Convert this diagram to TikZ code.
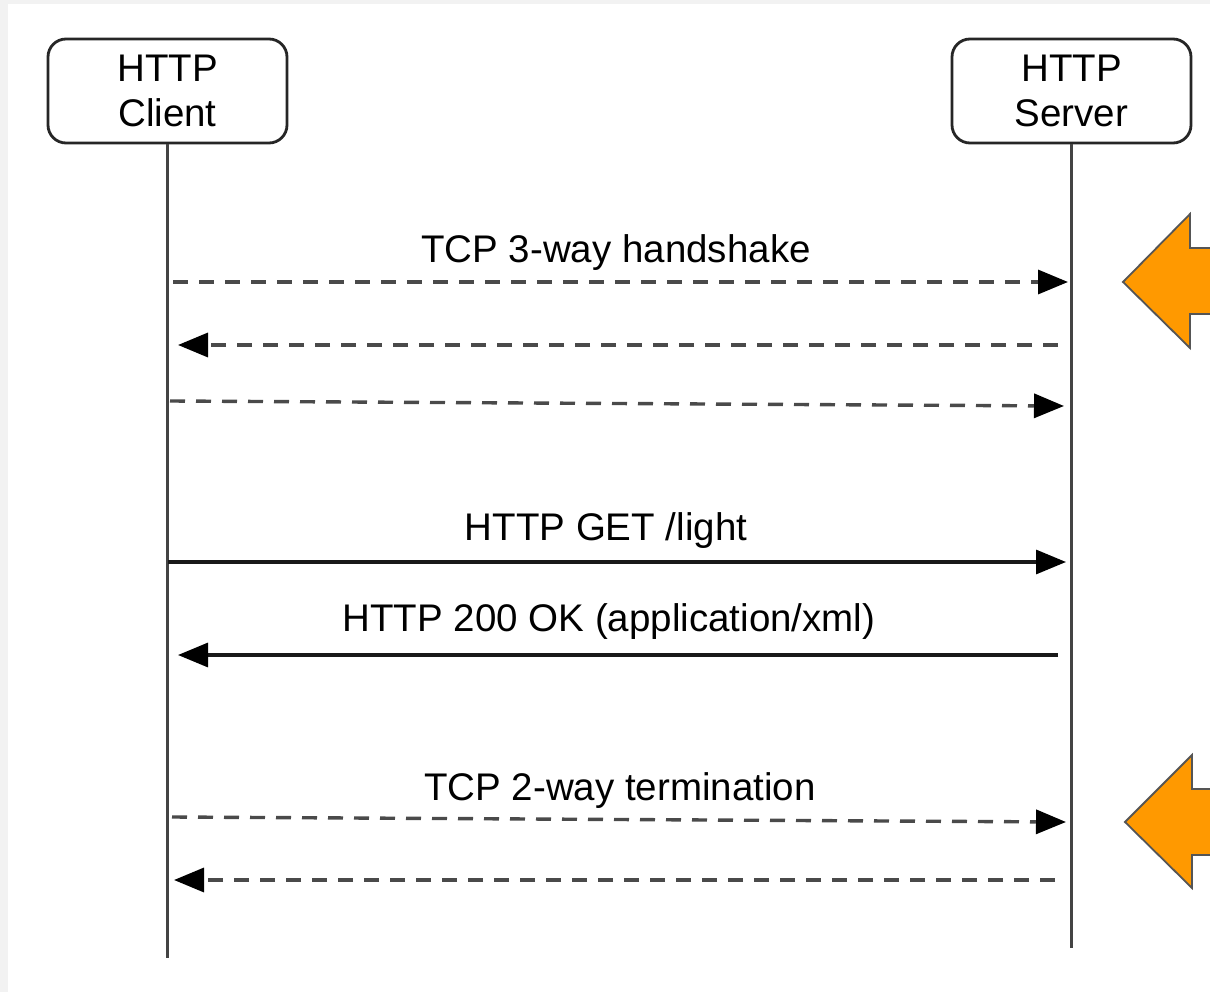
\documentclass[tikz,border=0pt]{standalone}
\usepackage{fontspec}
\setmainfont{Liberation Sans}
\usetikzlibrary{arrows.meta}

\definecolor{pagegray}{HTML}{F2F2F2}
\definecolor{lifegray}{HTML}{444444}
\definecolor{dashgray}{HTML}{4A4A4A}
\definecolor{hintorange}{HTML}{FF9900}
\definecolor{hintedge}{HTML}{555555}

\tikzset{
  actor/.style={draw=black!85, line width=2.8pt, rounded corners=18pt,
    minimum width=239pt, minimum height=104pt, inner sep=0pt,
    align=center, font=\fontsize{38.5}{45}\selectfont, text=black},
  lifeline/.style={draw=lifegray, line width=3.4pt},
  msgtip/.style={-{Triangle[length=30pt,width=24pt,color=black]}},
  syncmsg/.style={msgtip, draw=black!90, line width=3.2pt},
  tcpmsg/.style={msgtip, draw=dashgray, line width=3.4pt,
    dash pattern=on 15pt off 11pt},
  msglabel/.style={anchor=base, inner sep=0pt,
    font=\fontsize{38.5}{45}\selectfont, text=black},
  hint/.style={fill=hintorange, draw=hintedge, line width=1.8pt, line join=miter}
}

\begin{document}
\begin{tikzpicture}[x=1pt, y=-1pt]
  % page background
  \fill[pagegray] (0,0) rectangle (1210,992);
  \fill[white] (8,4) rectangle (1210,992);
  \useasboundingbox (0,0) rectangle (1210,992);

  % participants
  \node[actor] (client) at (167.5,91) {HTTP\\Client};
  \node[actor] (server) at (1071.5,91) {HTTP\\Server};
  \coordinate (clientend) at (167.5,958);
  \coordinate (serverend) at (1071.5,948);
  \draw[lifeline] (client.south) -- (clientend);
  \draw[lifeline] (server.south) -- (serverend);

  % message end points
  \coordinate (h1a) at (173,282);  \coordinate (h1b) at (1068,282);
  \coordinate (h2a) at (1058,345); \coordinate (h2b) at (178,345);
  \coordinate (h3a) at (170,401);  \coordinate (h3b) at (1064,406);
  \coordinate (g1a) at (168,562);  \coordinate (g1b) at (1066,562);
  \coordinate (r1a) at (1058,655); \coordinate (r1b) at (178,655);
  \coordinate (t1a) at (172,817);  \coordinate (t1b) at (1066,822);
  \coordinate (t2a) at (1055,880); \coordinate (t2b) at (174,880);

  % TCP handshake
  \node[msglabel] (lblhs) at (616,263) {TCP 3-way handshake};
  \draw[tcpmsg] (h1a) -- (h1b);
  \draw[tcpmsg] (h2a) -- (h2b);
  \draw[tcpmsg] (h3a) -- (h3b);

  % HTTP exchange
  \node[msglabel] (lblget) at (606,540) {HTTP GET /light};
  \draw[syncmsg] (g1a) -- (g1b);
  \node[msglabel] (lblok) at (609,631) {HTTP 200 OK (application/xml)};
  \draw[syncmsg] (r1a) -- (r1b);

  % TCP termination
  \node[msglabel] (lblterm) at (620,800) {TCP 2-way termination};
  \draw[tcpmsg] (t1a) -- (t1b);
  \draw[tcpmsg] (t2a) -- (t2b);

  % orange pointers
  \begin{scope}
    \clip (0,0) rectangle (1210,992);
    \draw[hint] (1123,282) -- (1190,214) -- (1190,248) -- (1220,248)
      -- (1220,314) -- (1190,314) -- (1190,348) -- cycle;
    \draw[hint] (1125,822) -- (1192,755) -- (1192,789) -- (1220,789)
      -- (1220,855) -- (1192,855) -- (1192,888) -- cycle;
  \end{scope}
\end{tikzpicture}
\end{document}
